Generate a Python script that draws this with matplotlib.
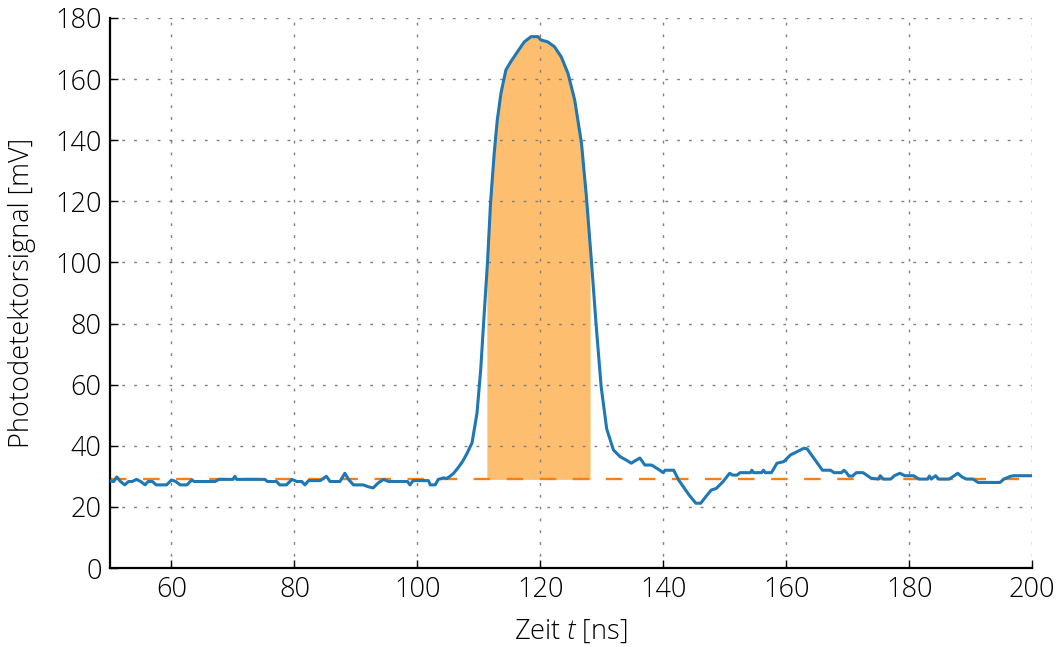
import numpy as np
import matplotlib
matplotlib.use("Agg")
import matplotlib.pyplot as plt

plt.rcParams["font.family"] = ["Open Sans", "DejaVu Sans"]
plt.rcParams["font.weight"] = "light"
plt.rcParams["axes.labelweight"] = "light"
plt.rcParams["mathtext.fontset"] = "custom"
plt.rcParams["mathtext.it"] = "Open Sans:italic:light"
plt.rcParams["mathtext.rm"] = "Open Sans:light"

# photodetector trace (ns, mV)
t = [50.0, 50.6, 51.1, 51.7, 52.4, 53.0, 53.6, 54.3, 55.0, 55.7, 56.2, 56.9,
     57.5, 59.2, 60.0, 60.7, 61.4, 62.5, 63.3, 63.7, 67.1, 67.7, 70.0, 70.3,
     70.6, 75.2, 75.6, 77.1, 77.6, 78.7, 79.6, 80.4, 81.2, 81.7, 82.3, 84.2,
     85.2, 85.8, 87.4, 88.2, 88.8, 89.6, 91.2, 92.0, 92.8, 93.6, 94.5, 95.3,
     98.4, 98.8, 99.3, 101.8, 102.1, 102.9, 103.4, 104.3, 104.8, 105.3, 105.9,
     106.7, 107.4, 108.1, 108.9, 109.7, 110.3, 110.8, 111.4, 111.9, 112.5,
     113.0, 113.6, 114.4, 115.2, 116.3, 117.4, 118.5, 119.6, 120.1, 121.2,
     122.3, 123.4, 124.5, 125.6, 126.7, 127.5, 128.3, 129.1, 129.9, 130.8,
     131.9, 133.0, 134.0, 134.8, 135.6, 136.2, 137.0, 138.1, 139.2, 140.0,
     140.3, 141.7, 142.5, 144.2, 145.3, 146.1, 146.9, 147.8, 148.6, 149.7,
     150.8, 151.3, 152.0, 152.5, 154.2, 154.4, 154.7, 156.0, 156.3, 156.6,
     157.6, 158.5, 159.6, 160.7, 161.8, 162.9, 163.4, 164.5, 165.9, 167.2,
     167.8, 169.0, 169.4, 169.8, 170.2, 170.8, 171.4, 172.5, 173.8, 175.0,
     175.3, 175.8, 177.0, 177.6, 178.5, 179.3, 180.7, 181.6, 183.0, 183.3,
     183.6, 184.3, 184.8, 186.5, 187.2, 187.9, 188.6, 189.3, 190.4, 191.2,
     194.8, 195.4, 196.5, 197.0, 200.0]
v = [28.5, 28.3, 29.8, 28.3, 27.2, 28.3, 28.3, 29.0, 28.3, 27.2, 28.3, 28.3,
     27.2, 27.2, 28.8, 28.3, 27.2, 27.2, 28.8, 28.3, 28.3, 29.0, 29.0, 30.0,
     29.0, 29.0, 28.3, 28.3, 27.2, 27.2, 29.0, 28.3, 28.3, 27.2, 28.6, 28.6,
     30.0, 28.3, 28.3, 31.0, 29.0, 27.2, 27.2, 26.6, 26.2, 27.8, 29.0, 28.3,
     28.3, 27.2, 28.6, 28.6, 27.2, 27.2, 29.0, 29.5, 29.3, 30.0, 31.0,
     33.0, 35.0, 37.6, 41.0, 50.7, 64.8, 81.0, 99.8, 119.4, 135.8,
     146.6, 155.4, 163.0, 165.7, 169.0, 172.2, 173.9, 173.9, 172.8, 172.2,
     170.6, 167.3, 161.9, 153.1, 139.0, 121.5, 100.8, 79.0, 59.3, 45.5,
     38.6, 36.4, 35.3, 34.3, 35.3, 36.0, 33.7, 33.7, 32.3, 31.2,
     32.0, 32.0, 28.8, 23.9, 21.2, 21.2, 23.3, 25.5, 26.0, 28.2,
     31.0, 30.4, 30.4, 31.2, 31.2, 32.0, 31.2, 31.2, 32.0, 31.2,
     31.2, 34.3, 34.8, 37.0, 38.1, 39.2, 39.0, 35.9, 32.0, 32.0,
     31.2, 31.2, 32.0, 31.2, 30.1, 30.1, 31.2, 31.2, 29.4, 29.1,
     30.2, 29.1, 29.1, 30.2, 31.0, 30.2, 30.2, 29.1, 29.1, 30.1,
     29.1, 30.2, 29.1, 29.1, 30.0, 31.0, 29.8, 29.1, 29.1, 28.0,
     28.0, 29.1, 30.0, 30.2, 30.2]

baseline = 29.0           # dashed offset level
pulse_start, pulse_end = 111.3, 128.1   # integration window

t = np.array(t)
v = np.array(v)

fig = plt.figure(figsize=(10.64, 6.47), dpi=100)
ax = fig.add_axes([0.1034, 0.1221, 0.8666, 0.8501])

# shaded pulse area between baseline and signal
inside = (t > pulse_start) & (t < pulse_end)
tf = np.concatenate([[pulse_start], t[inside], [pulse_end]])
vf = np.concatenate([[np.interp(pulse_start, t, v)], v[inside],
                     [np.interp(pulse_end, t, v)]])
ax.fill_between(tf, baseline, vf, color="#fdbe6f", linewidth=0, zorder=1)

ax.plot(t, v, color="#1f77b4", lw=2.2, zorder=3)
ax.axhline(baseline, color="#ff7f0e", lw=1.7, ls=(0, (7, 7)), zorder=2)
ax.axhline(0, color="k", lw=1.2, ls="--", zorder=4)

ax.set_xlim(50, 200)
ax.set_ylim(0, 180)
ax.set_xticks(np.arange(60, 201, 20))
ax.set_yticks(np.arange(0, 181, 20))
ax.grid(True, color="#808080", ls=(0, (2, 6.5)), lw=1.0)

for side in ["top", "right"]:
    ax.spines[side].set_visible(False)
for side in ["left", "bottom"]:
    ax.spines[side].set_linewidth(1.6)

ax.tick_params(direction="in", length=6, width=1.0, labelsize=19.5,
               top=False, right=False, pad=6)
ax.set_xlabel("Zeit $t$ [ns]", fontsize=19.5, labelpad=10)
ax.set_ylabel("Photodetektorsignal [mV]", fontsize=19.5, labelpad=14)

fig.savefig("out.png", dpi=100)
